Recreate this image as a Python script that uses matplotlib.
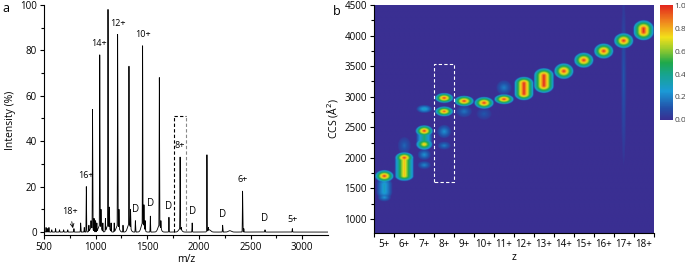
import numpy as np
import matplotlib
matplotlib.use('Agg')
from matplotlib import pyplot as plt
from matplotlib.colors import LinearSegmentedColormap

plt.rcParams['font.family'] = ['Open Sans', 'DejaVu Sans']
plt.rcParams['font.size'] = 7

# ---- panel a: mass spectrum (m/z, relative intensity %) ----
peak_mz = [520, 535, 548, 575, 612, 650, 690, 730, 790, 855, 890, 910, 935, 955,
           970, 985, 1000, 1012, 1040, 1052, 1070, 1095, 1120, 1133, 1150, 1180,
           1213, 1226, 1265, 1323, 1338, 1385, 1455, 1468, 1480, 1530, 1617, 1632,
           1710, 1818, 1830, 1935, 2078, 2092, 2230, 2423, 2435, 2640, 2905]
peak_int = [2, 1.5, 2, 1, 1.5, 1, 1, 1, 1.5, 4, 2, 20, 3, 5,
            54, 6, 5, 4, 78, 10, 4, 6, 98, 11, 4, 4,
            87, 10, 3, 73, 10, 5, 82, 12, 5, 7, 68, 5,
            6.5, 33, 2, 4, 34, 2, 3, 18, 1.5, 1, 1.5]
hump_mz = [960, 1040, 1120, 1213, 1323, 1455, 1617, 1818, 2100, 2300]
hump_int = [2, 3, 3, 3, 3.5, 4, 3, 1.5, 1, 0.6]

charge_labels = ['16+', '14+', '12+', '10+', '8+', '6+', '5+']
charge_mz = [910, 1030, 1213, 1455, 1818, 2423, 2905]
charge_y = [23, 81, 90, 85, 36, 21, 3.5]
dimer_mz = [1385, 1530, 1710, 1935, 2230, 2640]
dimer_y = [7.5, 10, 9, 6.5, 5.5, 3.5]

# ---- panel b: CCS vs charge state ----
# blob: charge index, CCS centre, peak intensity, half-length of ridge,
#       half-height in CCS, half-width in z
z_labels = ['5+', '6+', '7+', '8+', '9+', '10+', '11+', '12+', '13+', '14+',
            '15+', '16+', '17+', '18+']
blob_z = [0, 0, 0,
          1, 1, 1,
          2, 2, 2, 2, 2, 2,
          3, 3, 3, 3,
          4, 4, 5, 5, 6, 6,
          7, 8, 9, 10, 11, 12, 12, 13]
blob_ccs = [1700, 1500, 1350,
            2000, 1850, 2200,
            2440, 2220, 2330, 2800, 1880, 2050,
            2980, 2760, 2430, 2200,
            2930, 2760, 2900, 2720, 2960, 3150,
            3135, 3265, 3420, 3600, 3750, 3920, 3300, 4090]
blob_amp = [1.0, 0.3, 0.25,
            1.0, 0.78, 0.15,
            1.0, 0.8, 0.45, 0.32, 0.22, 0.24,
            1.0, 0.95, 0.24, 0.2,
            1.0, 0.18, 1.0, 0.12, 1.0, 0.2,
            1.0, 1.0, 1.0, 1.0, 1.0, 1.0, 0.12, 1.0]
blob_len = [0, 60, 0,
            0, 150, 0,
            0, 0, 110, 0, 0, 0,
            0, 0, 0, 0,
            0, 0, 0, 0, 0, 0,
            90, 85, 0, 0, 0, 0, 0, 30]
blob_hccs = [90, 110, 60,
             85, 75, 130,
             85, 85, 60, 60, 60, 80,
             75, 75, 100, 60,
             80, 90, 90, 90, 75, 110,
             95, 110, 120, 115, 115, 115, 1300, 125]
blob_hz = [0.43, 0.36, 0.3,
           0.42, 0.43, 0.3,
           0.4, 0.38, 0.36, 0.36, 0.3, 0.3,
           0.42, 0.42, 0.32, 0.3,
           0.45, 0.36, 0.45, 0.35, 0.45, 0.35,
           0.44, 0.46, 0.45, 0.45, 0.45, 0.45, 0.12, 0.47]

cmap = LinearSegmentedColormap.from_list('ccs', [
    (0.0, '#3a2f92'), (0.1, '#2350a8'), (0.25, '#1b9ad6'), (0.4, '#17a48c'),
    (0.5, '#1fa84a'), (0.62, '#9ccc2c'), (0.72, '#f2e01a'), (0.85, '#f08a1e'),
    (1.0, '#e3261d')])

fig = plt.figure(figsize=(6.85, 2.66), dpi=100)

# ------------------------- panel a -------------------------
ax1 = fig.add_axes([0.0642, 0.1165, 0.4146, 0.8650])
mz = np.arange(500, 3250, 0.5)
spec = np.zeros_like(mz)
for c, h in zip(peak_mz, peak_int):
    spec = np.maximum(spec, h * np.exp(-0.5 * ((mz - c) / 1.8) ** 2))
for c, h in zip(hump_mz, hump_int):
    spec = np.maximum(spec, h * np.exp(-0.5 * ((mz - c) / 14) ** 2))
ax1.plot(mz, spec, color='black', lw=0.6)
ax1.set_xlim(500, 3250)
ax1.set_ylim(-1.3, 100)
ax1.set_xticks(np.arange(500, 3001, 500))
ax1.set_xticks(np.arange(750, 3250, 500), minor=True)
ax1.set_yticks(np.arange(0, 101, 20))
ax1.set_yticks(np.arange(10, 100, 20), minor=True)
for side in ['top', 'right']:
    ax1.spines[side].set_visible(False)
ax1.tick_params(length=3, width=0.8, labelsize=7, pad=2)
ax1.tick_params(which='minor', length=2, width=0.8)
ax1.set_xlabel('m/z', fontsize=7.5, labelpad=1)
ax1.set_ylabel('Intensity (%)', fontsize=7.5, labelpad=3)

for lab, x, y in zip(charge_labels, charge_mz, charge_y):
    ax1.text(x, y, lab, ha='center', va='bottom', fontsize=6.5)
for x, y in zip(dimer_mz, dimer_y):
    ax1.text(x, y, 'D', ha='center', va='bottom', fontsize=7)
ax1.annotate('18+', xy=(785, 0.5), xytext=(752, 7), ha='center', va='bottom',
             fontsize=6.5, arrowprops=dict(arrowstyle='->', lw=0.6, color='black'))

# dashed selection box around 8+
ax1.plot([1755, 1755], [0, 51], ls=(0, (3, 2)), color='black', lw=0.8)
ax1.plot([1755, 1880], [51, 51], ls=(0, (3, 2)), color='black', lw=0.8)
ax1.plot([1880, 1880], [0, 51], ls=(0, (3, 2)), color='#888888', lw=0.8)

fig.text(0.003, 0.955, 'a', fontsize=9)

# ------------------------- panel b -------------------------
ax2 = fig.add_axes([0.546, 0.124, 0.4087, 0.857])
zz = np.linspace(0, 14, 14 * 24)
cc = np.linspace(770, 4500, 400)
Z, C = np.meshgrid(zz, cc)
img = np.zeros_like(Z)
for zi, c, a, ln, hc, hz in zip(blob_z, blob_ccs, blob_amp, blob_len,
                                blob_hccs, blob_hz):
    dc = np.clip(np.abs(C - c) - ln, 0, None)
    r = np.sqrt(((Z - (zi + 0.5)) / hz) ** 2 + (dc / hc) ** 2)
    inner = 1 - 0.75 * r
    edge = 0.25 * np.clip(1 - (r - 1) / 0.12, 0, 1)
    prof = np.where(r <= 1, inner, edge)
    img = np.maximum(img, a * prof)
img = np.clip(img, 0, 1)
im = ax2.imshow(img, origin='lower', aspect='auto', extent=[0, 14, 770, 4500],
                cmap=cmap, vmin=0, vmax=1, interpolation='bilinear')
ax2.set_xlim(0, 14)
ax2.set_ylim(770, 4500)
ax2.set_xticks(np.arange(0, 15))
ax2.set_xticklabels([])
ax2.set_xticks(np.arange(14) + 0.5, minor=True)
ax2.set_xticklabels(z_labels, minor=True)
ax2.tick_params(axis='x', which='minor', length=0, labelsize=7, pad=4)
ax2.tick_params(axis='x', which='major', length=3, width=0.8)
ax2.set_yticks(np.arange(1000, 4501, 500))
ax2.set_yticks(np.arange(1250, 4500, 500), minor=True)
ax2.tick_params(axis='y', which='major', length=3, width=0.8, labelsize=7, pad=2)
ax2.tick_params(axis='y', which='minor', length=2, width=0.8)
for side in ['top', 'right']:
    ax2.spines[side].set_visible(False)
ax2.set_xlabel('z', fontsize=7.5, labelpad=2)
ax2.set_ylabel('CCS (Å$^2$)', fontsize=7.5, labelpad=3)

# dashed selection box around 8+
ax2.plot([3, 3, 4, 4, 3], [1600, 3530, 3530, 1600, 1600], ls=(0, (3, 2)),
         color='white', lw=0.8)

fig.text(0.486, 0.945, 'b', fontsize=9)

cax = fig.add_axes([0.9635, 0.549, 0.019, 0.432])
cb = fig.colorbar(im, cax=cax, ticks=np.arange(0, 1.01, 0.2))
cb.ax.set_yticklabels(['0.0', '0.2', '0.4', '0.6', '0.8', '1.0'])
cb.ax.tick_params(length=0, labelsize=6, colors='#444444', pad=1)
cb.outline.set_visible(False)

fig.savefig('out.png', dpi=100)
